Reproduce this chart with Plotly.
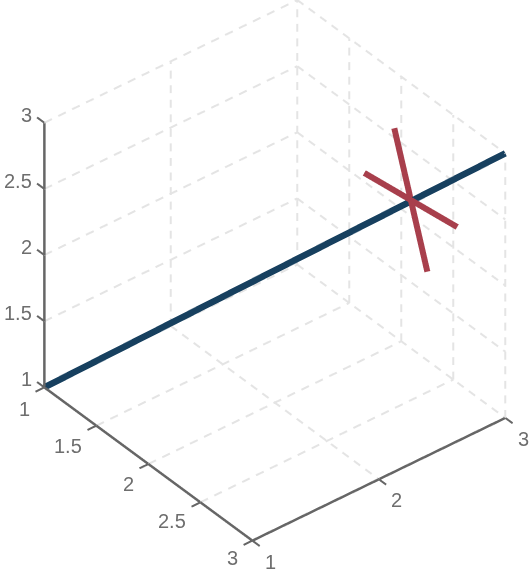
import numpy as np
import plotly.graph_objects as go

x_ticks = [1, 2, 3]
y_ticks = [1, 1.5, 2, 2.5, 3]
z_ticks = [1, 1.5, 2, 2.5, 3]
blue_x = [1, 3]; blue_y = [1, 3]; blue_z = [1, 3]
red1_x = [2.543, 2.636]; red1_y = [2.2, 2.98]; red1_z = [2.6, 2.6]
red2_x = [2.633, 2.547]; red2_y = [2.379, 2.801]; red2_z = [3.0, 2.2]

GRID = "#e4e4e4"; AX = "#666666"; TICK = 0.07
lo, hi = 1, 3
DASH_ON, DASH_PERIOD = 0.06, 0.11
fig = go.Figure()

def seg(xs, ys, zs, color, width):
    fig.add_trace(go.Scatter3d(x=xs, y=ys, z=zs, mode="lines", hoverinfo="skip",
                               showlegend=False, line=dict(color=color, width=width)))

def dashed(xs, ys, zs):
    a = np.array([xs[0], ys[0], zs[0]], float)
    b = np.array([xs[1], ys[1], zs[1]], float)
    L = np.linalg.norm(b - a)
    px, py, pz = [], [], []
    s = 0.0
    while s < L:
        p = a + (b - a) * s / L
        q = a + (b - a) * min(s + DASH_ON, L) / L
        px += [p[0], q[0], None]; py += [p[1], q[1], None]; pz += [p[2], q[2], None]
        s += DASH_PERIOD
    seg(px, py, pz, GRID, 4)

# grid on wall y=1, wall x=3, floor z=1 (edges under the axes are left out)
for z in z_ticks:
    dashed([lo, hi], [lo, lo], [z, z])
    dashed([hi, hi], [lo, hi], [z, z])
for x in x_ticks:
    if x != lo:
        dashed([x, x], [lo, lo], [lo, hi])
        if x != hi:
            dashed([x, x], [lo, hi], [lo, lo])
for y in y_ticks:
    if y != lo:
        dashed([hi, hi], [y, y], [lo, hi])
    if lo < y < hi:
        dashed([lo, hi], [y, y], [lo, lo])

# axes and ticks
seg([lo, lo], [lo, lo], [lo, hi], AX, 5)
seg([lo, lo], [lo, hi], [lo, lo], AX, 5)
seg([lo, hi], [hi, hi], [lo, lo], AX, 5)
for z in z_ticks:
    seg([lo, lo], [lo - TICK, lo], [z, z], AX, 4)
for y in y_ticks:
    seg([lo - TICK, lo], [y, y], [lo, lo], AX, 4)
for x in x_ticks:
    seg([x, x], [hi, hi + TICK], [lo, lo], AX, 4)

seg(blue_x, blue_y, blue_z, "#17405f", 13)
seg(red1_x, red1_y, red1_z, "#a83f4c", 12)
seg(red2_x, red2_y, red2_z, "#a83f4c", 12)

anns = []
font = dict(family="Liberation Sans, Arial", size=20, color="#6e6e6e")
def lab(x, y, z, t, dx, dy, anchor="center"):
    anns.append(dict(x=x, y=y, z=z, text=t, showarrow=False, font=font,
                     xshift=dx, yshift=dy, xanchor=anchor, yanchor="middle"))
for z in z_ticks:
    lab(lo, lo, z, str(z), -10, 8, "right")
for y in y_ticks:
    lab(lo, y, lo, str(y), -12, -22 + (y - 1) * 2.5, "right")
for x in x_ticks:
    lab(x, hi, lo, str(x), 18, -21)

ax = dict(visible=False, showspikes=False)
fig.update_layout(
    width=532, height=571, margin=dict(l=0, r=0, t=0, b=0), paper_bgcolor="white",
    showlegend=False,
    scene=dict(
        domain=dict(x=[0, 1], y=[0, 1]),
        xaxis=dict(range=[0.9, 3.1], **ax),
        yaxis=dict(range=[3.1, 0.9], **ax),
        zaxis=dict(range=[0.9, 3.1], **ax),
        aspectmode="manual",
        aspectratio=dict(x=1.255, y=1.272, z=1.272),
        bgcolor="white",
        annotations=anns,
        camera=dict(projection=dict(type="orthographic"),
                    eye=dict(x=-0.8157, y=-0.9558, z=0.871),
                    center=dict(x=-0.024, y=0.0195, z=-0.0663),
                    up=dict(x=0, y=0, z=1)),
    ),
)
fig.write_html("out.html", config=dict(displayModeBar=False),
               post_script="document.body.style.margin='0';")
